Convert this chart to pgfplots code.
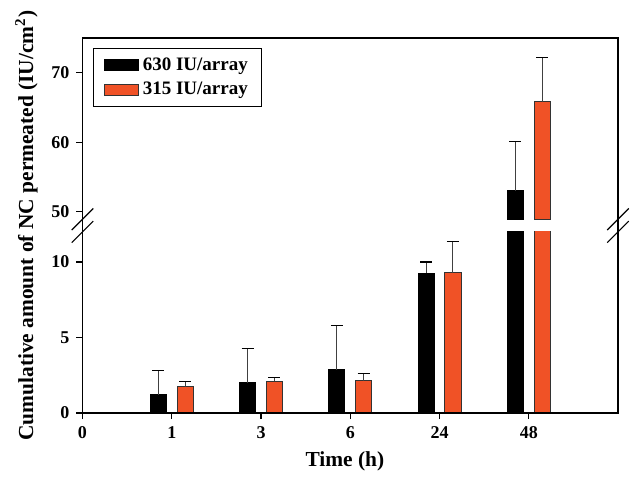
\documentclass[border=0pt]{standalone}
\usepackage{pgfplots}
\usepackage{pgfplotstable}
\pgfplotsset{compat=1.18}
\usepackage{fontspec}
\setmainfont{Liberation Serif}
\definecolor{barorange}{RGB}{240,82,38}

\pgfplotstableread{
x y e
1 1.21 1.62
2 2.01 2.25
3 2.87 2.94
4 9.27 0.73
5 53.0 7.1
}\tableA
\pgfplotstableread{
x y e
1 1.74 0.36
2 2.10 0.26
3 2.14 0.49
4 9.29 2.05
5 65.8 6.4
}\tableB

\pgfplotsset{
  brk/.style={
    scale only axis, width=267.75pt, height=90.6pt,
    xmin=0, xmax=6,
    axis line style={draw=none},
    tick align=outside, tick pos=left,
    major tick length=3pt,
    every tick/.style={black, line width=0.6pt},
    tick label style={font=\fontsize{9}{10}\selectfont\bfseries},
    /pgf/number format/assume math mode=true,
    ybar, bar width=0.18,
    legend image code/.code={\draw[##1, line width=0.4pt] (0pt,-2.75pt) rectangle (17pt,2.75pt);},
  },
  serA/.style={fill=black, draw=black, line width=0.4pt, bar shift=-0.15,
    error bars/.cd, y dir=plus, y explicit,
    error bar style={black!75, line width=0.5pt},
    error mark options={rotate=90, black, line width=0.6pt, mark size=3pt}},
  serB/.style={fill=barorange, draw=black!80, line width=0.4pt, bar shift=0.15,
    error bars/.cd, y dir=plus, y explicit,
    error bar style={black!75, line width=0.5pt},
    error mark options={rotate=90, black, line width=0.6pt, mark size=3pt}},
}

\begin{document}
\begin{tikzpicture}
\begin{axis}[brk, name=low, at={(0,0)}, anchor=south west,
  ymin=0, ymax=12, ytick={0,5,10},
  xtick={0,1,2,3,4,5}, xticklabels={0,1,3,6,24,48},
  xlabel={Time (h)},
  xlabel style={font=\fontsize{10.7}{12}\selectfont\bfseries, at={(ticklabel cs:0.49)}},
  ylabel={Cumulative amount of NC permeated (IU/cm\textsuperscript{2})},
  ylabel style={font=\fontsize{10.7}{12}\selectfont\bfseries, at={(ticklabel cs:1.034)}},
  ylabel shift=0pt,
]
\addplot[serA] table[x=x, y=y, y error=e] {\tableA};
\addplot[serB] table[x=x, y=y, y error=e] {\tableB};
\end{axis}
\begin{axis}[brk, name=up, at={(0,96.95pt)}, anchor=south west,
  ymin=48.9, ymax=75, ytick={50,60,70},
  xtick=\empty,
  legend style={at={(0.0205,0.945)}, anchor=north west, draw=black, line width=0.5pt,
    font=\fontsize{9.5}{11}\selectfont\bfseries, inner xsep=5pt, inner ysep=2.5pt,
    row sep=0.5pt},
  legend cell align=left,
]
\addplot[restrict y to domain=20:100, serA] table[x=x, y=y, y error=e] {\tableA};
\addplot[restrict y to domain=20:100, serB] table[x=x, y=y, y error=e] {\tableB};
\legend{630 IU/array, 315 IU/array}
\end{axis}
\draw[line width=0.8pt] (up.north west) -- (up.north east) -- (low.south east) -- (low.south west) -- cycle;
\draw[line width=0.6pt] (up.south west) ++(-5.4pt,-5.4pt) -- ++(10.8pt,10.8pt);
\draw[line width=0.6pt] (low.north west) ++(-5.4pt,-5.4pt) -- ++(10.8pt,10.8pt);
\draw[line width=0.6pt] (up.south east) ++(-5.4pt,-5.4pt) -- ++(10.8pt,10.8pt);
\draw[line width=0.6pt] (low.north east) ++(-5.4pt,-5.4pt) -- ++(10.8pt,10.8pt);
\path (up.north west) ++(-41.25pt,19pt) coordinate (tl);
\path (low.south east) ++(6pt,-29pt) coordinate (br);
\path (tl) rectangle (br);
\end{tikzpicture}
\end{document}
